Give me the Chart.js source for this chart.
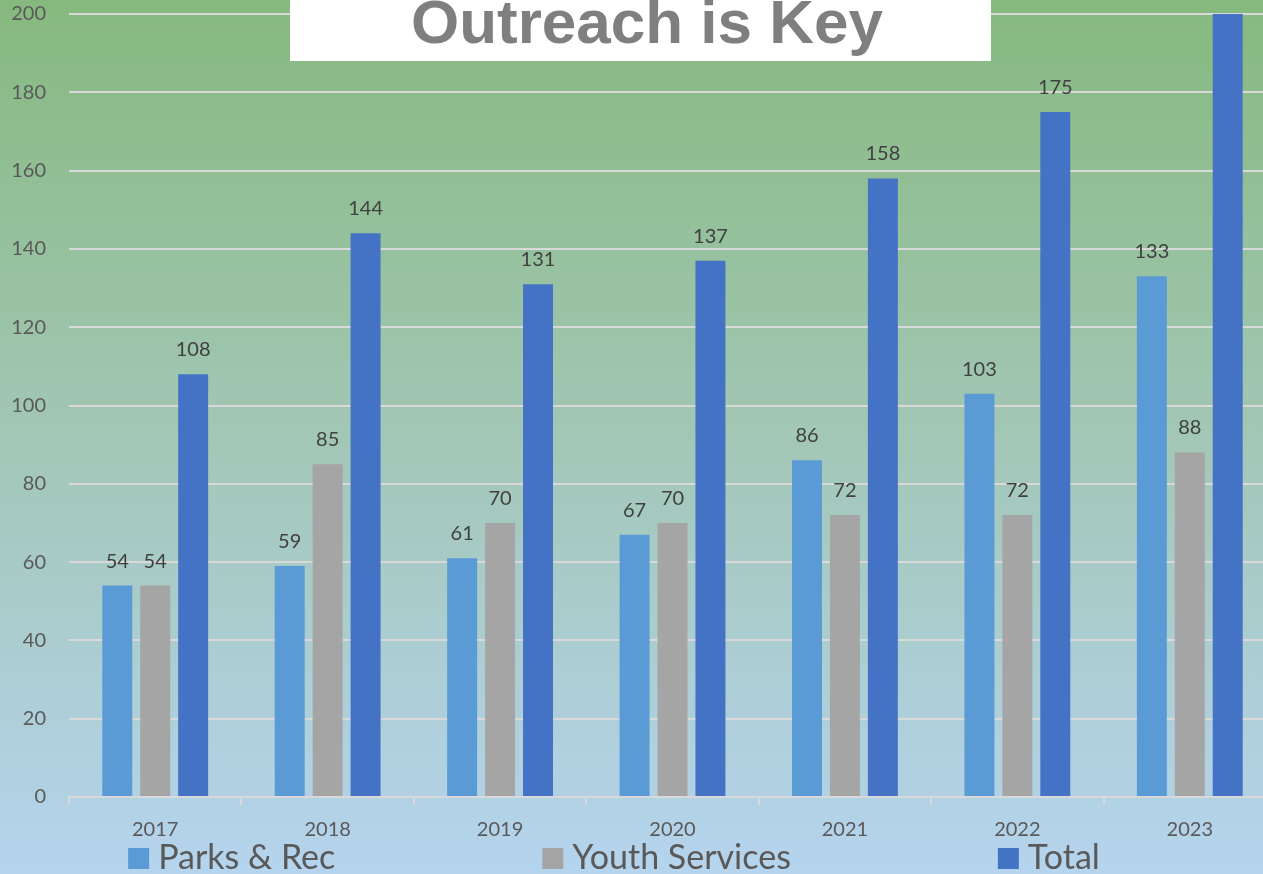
<!DOCTYPE html>
<html>
<head>
<meta charset="utf-8">
<title>Outreach is Key</title>
<script src="https://cdn.jsdelivr.net/npm/chart.js@4.4.0/dist/chart.umd.min.js"></script>
<style>
  html, body { margin: 0; padding: 0; overflow: hidden; background: #b5d4ee; }
  #wrap { position: relative; width: 1280px; height: 874px; }
</style>
</head>
<body>
<div id="wrap"><canvas id="myChart"></canvas></div>
<script>
const years = ["2017", "2018", "2019", "2020", "2021", "2022", "2023"];
const parksRec = [54, 59, 61, 67, 86, 103, 133];
const youthServices = [54, 85, 70, 70, 72, 72, 88];
const total = [108, 144, 131, 137, 158, 175, 221];
const yMin = 0;
const yMax = 200;
const yStep = 20;

const chartTitle = "Outreach is Key";

// green-to-blue backdrop over the whole canvas
const backdrop = {
  id: "backdrop",
  beforeDraw(chart) {
    const { ctx, width, height } = chart;
    const g = ctx.createLinearGradient(0, 0, 0, height);
    g.addColorStop(0, "#86b97e");
    g.addColorStop(0.5, "#a2c7b6");
    g.addColorStop(1, "#b5d4ee");
    ctx.save();
    ctx.fillStyle = g;
    ctx.fillRect(0, 0, width, height);
    ctx.restore();
  },
};

// values above each bar (skip the ones cut off at the top)
const barValues = {
  id: "barValues",
  afterDatasetsDraw(chart) {
    const { ctx } = chart;
    ctx.save();
    ctx.font = "20px Lato";
    ctx.fillStyle = "#404040";
    ctx.textAlign = "center";
    ctx.textBaseline = "alphabetic";
    chart.data.datasets.forEach((ds, i) => {
      chart.getDatasetMeta(i).data.forEach((bar, j) => {
        const v = ds.data[j];
        if (v > yMax) return;
        ctx.fillText(String(v), bar.x, bar.y - 18);
      });
    });
    ctx.restore();
  },
};

// legend spread along the bottom like the Excel original
const wideLegend = {
  id: "wideLegend",
  afterDraw(chart) {
    const { ctx } = chart;
    const box = 21, gapText = 9, gapItem = 207, center = 614, base = 869;
    ctx.save();
    ctx.font = "34px Lato";
    const widths = chart.data.datasets.map(ds => box + gapText + ctx.measureText(ds.label).width);
    const full = widths.reduce((a, b) => a + b, 0) + gapItem * (widths.length - 1);
    let x = center - full / 2;
    chart.data.datasets.forEach((ds, i) => {
      ctx.fillStyle = ds.backgroundColor;
      ctx.fillRect(x, 848, box, box);
      ctx.fillStyle = "#595959";
      ctx.textAlign = "left";
      ctx.textBaseline = "alphabetic";
      ctx.fillText(ds.label, x + box + gapText, base);
      x += widths[i] + gapItem;
    });
    ctx.restore();
  },
};

// white title banner sitting over the top of the plot
const banner = {
  id: "banner",
  afterDraw(chart) {
    const { ctx } = chart;
    ctx.save();
    ctx.fillStyle = "#ffffff";
    ctx.fillRect(290, 0, 701, 61);
    ctx.fillStyle = "#7f7f7f";
    ctx.font = "bold 62px 'Liberation Sans', Arial, sans-serif";
    ctx.textAlign = "center";
    ctx.textBaseline = "alphabetic";
    ctx.fillText(chartTitle, 647, 43);
    ctx.restore();
  },
};

const ctx = document.getElementById("myChart").getContext("2d");

new Chart(ctx, {
  type: "bar",
  data: {
    labels: years,
    datasets: [
      { label: "Parks & Rec", data: parksRec, backgroundColor: "#5b9bd5" },
      { label: "Youth Services", data: youthServices, backgroundColor: "#a5a5a5" },
      { label: "Total", data: total, backgroundColor: "#4472c4" },
    ],
  },
  options: {
    responsive: true,
    maintainAspectRatio: false,
    animation: false,
    layout: { padding: { top: 14, right: 4, bottom: 0, left: 0 } },
    datasets: {
      bar: { categoryPercentage: 0.66, barPercentage: 0.79 },
    },
    plugins: {
      legend: { display: false },
      title: { display: false },
      tooltip: { enabled: false },
    },
    scales: {
      x: {
        grid: {
          offset: true,
          drawOnChartArea: false,
          color: "#d9d9d9",
          lineWidth: 2,
          tickLength: 8,
        },
        border: { color: "#d9d9d9", width: 2 },
        ticks: { color: "#595959", font: { family: "Lato", size: 20 }, padding: 13 },
        afterFit(scale) { scale.height = 77; },
      },
      y: {
        min: yMin,
        max: yMax,
        ticks: {
          stepSize: yStep,
          color: "#595959",
          font: { family: "Lato", size: 20 },
          padding: 23,
        },
        grid: { color: "#d9d9d9", lineWidth: 2, drawTicks: false },
        border: { display: false },
        afterFit(scale) {
          scale.width = 69;
          scale.paddingTop = 0;
        },
      },
    },
  },
  plugins: [backdrop, barValues, wideLegend, banner],
});
</script>
</body>
</html>
